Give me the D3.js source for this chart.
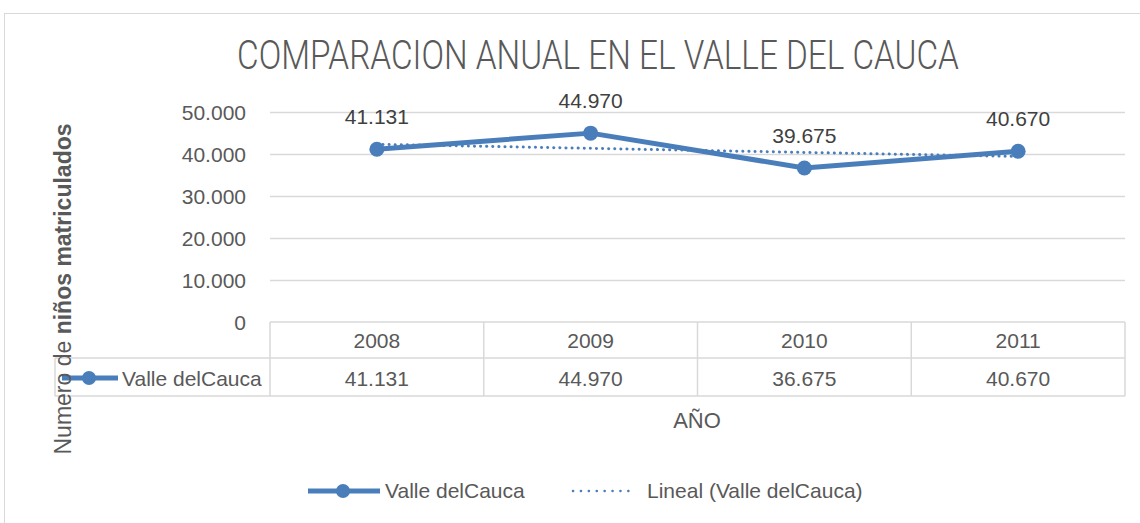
<!DOCTYPE html>
<html lang="es">
<head>
  <meta charset="UTF-8">
  <title>Comparacion anual</title>
  <script src="https://d3js.org/d3.v7.min.js"></script>
  <style>
    body { margin: 0; background: #fff; }
    svg text { font-family: "Liberation Sans", Arial, sans-serif; }
  </style>
</head>
<body>
  <svg id="chart" width="1140" height="523"></svg>

  <script>
    // data
    const years = ["2008", "2009", "2010", "2011"];
    const values = [41131, 44970, 36675, 40670];
    const dataLabels = ["41.131", "44.970", "39.675", "40.670"];
    const yTicks = [0, 10000, 20000, 30000, 40000, 50000];
    const seriesName = "Valle delCauca";
    const trendName = "Lineal (Valle delCauca)";

    const blue = "#4a7ebb";
    const grid = "#d9d9d9";
    const txt = "#595959";
    const fs = 21;

    const svg = d3.select("#chart");
    const loc = d3.formatLocale({ decimal: ",", thousands: ".", grouping: [3], currency: ["", ""] });
    const fmt = loc.format(",d");

    // frame
    svg.append("rect")
      .attr("x", 4.5).attr("y", 13.5)
      .attr("width", 1140).attr("height", 520)
      .attr("fill", "none").attr("stroke", grid);

    // title, squeezed horizontally to the reference width
    const titleG = svg.append("g");
    const title = titleG.append("text")
      .attr("text-anchor", "middle")
      .attr("font-size", 40)
      .attr("font-weight", 300)
      .style("font-family", "Roboto, 'Liberation Sans', sans-serif")
      .attr("fill", txt)
      .text("COMPARACION ANUAL EN EL VALLE DEL CAUCA");
    const tw = title.node().getComputedTextLength();
    titleG.attr("transform", `translate(598,69) scale(${722 / tw},1)`);

    const plotL = 270, plotR = 1125, plotT = 112, plotB = 322;
    const x = d3.scaleBand().domain(years).range([plotL, plotR]);
    const y = d3.scaleLinear().domain([0, 50000]).range([plotB, plotT]);
    const cx = d => x(d) + x.bandwidth() / 2;

    // gridlines
    svg.append("g")
      .selectAll("line")
      .data(yTicks.filter(t => t > 0))
      .join("line")
      .attr("x1", plotL).attr("x2", plotR)
      .attr("y1", d => Math.round(y(d)) + 0.5)
      .attr("y2", d => Math.round(y(d)) + 0.5)
      .attr("stroke", grid).attr("stroke-width", 1.5);

    // y axis labels
    const yAxis = svg.append("g")
      .attr("transform", `translate(${plotL - 24},0)`)
      .call(d3.axisLeft(y).tickValues(yTicks).tickFormat(fmt).tickSize(0).tickPadding(0));
    yAxis.select(".domain").remove();
    yAxis.selectAll("text")
      .attr("font-size", fs)
      .attr("fill", txt)
      .attr("dy", "0.35em");

    // data table
    const rowTop = 322, rowMid = 358, rowBot = 396, tableLeft = 55;
    const tbl = svg.append("g").attr("stroke", grid).attr("stroke-width", 1.5);
    tbl.append("line").attr("x1", plotL).attr("x2", plotR).attr("y1", rowTop).attr("y2", rowTop);
    tbl.append("line").attr("x1", tableLeft).attr("x2", plotR).attr("y1", rowMid).attr("y2", rowMid);
    tbl.append("line").attr("x1", tableLeft).attr("x2", plotR).attr("y1", rowBot).attr("y2", rowBot);
    tbl.append("line").attr("x1", tableLeft).attr("x2", tableLeft).attr("y1", rowMid).attr("y2", rowBot);
    tbl.selectAll(".v")
      .data(years.map(d => x(d)).concat([plotR]))
      .join("line")
      .attr("x1", d => d).attr("x2", d => d)
      .attr("y1", rowTop).attr("y2", rowBot);

    svg.append("g")
      .selectAll("text")
      .data(years)
      .join("text")
      .attr("x", d => cx(d)).attr("y", 348)
      .attr("text-anchor", "middle")
      .attr("font-size", fs).attr("fill", txt)
      .text(d => d);

    svg.append("g")
      .selectAll("text")
      .data(values)
      .join("text")
      .attr("x", (d, i) => cx(years[i])).attr("y", 386)
      .attr("text-anchor", "middle")
      .attr("font-size", fs).attr("fill", txt)
      .text(d => fmt(d));

    // legend key inside table
    svg.append("line")
      .attr("x1", 62).attr("x2", 118).attr("y1", 378).attr("y2", 378)
      .attr("stroke", blue).attr("stroke-width", 5);
    svg.append("circle").attr("cx", 89).attr("cy", 378).attr("r", 7).attr("fill", blue);
    svg.append("text")
      .attr("x", 122).attr("y", 386)
      .attr("font-size", fs).attr("fill", txt)
      .text(seriesName);

    // axis titles
    svg.append("text")
      .attr("x", 697).attr("y", 428)
      .attr("text-anchor", "middle")
      .attr("font-size", 22).attr("fill", txt)
      .text("AÑO");

    const yt = svg.append("text")
      .attr("transform", "translate(71,289) rotate(-90)")
      .attr("text-anchor", "middle")
      .attr("font-size", 23).attr("fill", txt);
    yt.append("tspan").text("Numero de ");
    yt.append("tspan").attr("font-weight", "bold").text("niños matriculados");

    // linear trend (least squares on category index)
    const n = values.length;
    const xs = values.map((d, i) => i + 1);
    const mx = d3.mean(xs), my = d3.mean(values);
    const slope = d3.sum(xs, (xi, i) => (xi - mx) * (values[i] - my)) / d3.sum(xs, xi => (xi - mx) ** 2);
    const icpt = my - slope * mx;
    const trend = years.map((yr, i) => [cx(yr), y(icpt + slope * (i + 1))]);

    svg.append("path")
      .attr("d", d3.line()([trend[0], trend[n - 1]]))
      .attr("fill", "none")
      .attr("stroke", blue).attr("stroke-width", 3)
      .attr("stroke-linecap", "round")
      .attr("stroke-dasharray", "0.1 6");

    // series line
    svg.append("path")
      .datum(values)
      .attr("d", d3.line().x((d, i) => cx(years[i])).y(d => y(d)))
      .attr("fill", "none")
      .attr("stroke", blue).attr("stroke-width", 5)
      .attr("stroke-linejoin", "round");

    svg.append("g")
      .selectAll("circle")
      .data(values)
      .join("circle")
      .attr("cx", (d, i) => cx(years[i]))
      .attr("cy", d => y(d))
      .attr("r", 7.5)
      .attr("fill", blue);

    // data labels
    svg.append("g")
      .selectAll("text")
      .data(values)
      .join("text")
      .attr("x", (d, i) => cx(years[i]))
      .attr("y", d => y(d) - 25)
      .attr("text-anchor", "middle")
      .attr("font-size", fs).attr("fill", "#404040")
      .text((d, i) => dataLabels[i]);

    // bottom legend
    const lg = svg.append("g");
    lg.append("line").attr("x1", 308).attr("x2", 380).attr("y1", 491).attr("y2", 491)
      .attr("stroke", blue).attr("stroke-width", 5);
    lg.append("circle").attr("cx", 343).attr("cy", 491).attr("r", 7).attr("fill", blue);
    lg.append("text").attr("x", 385).attr("y", 498)
      .attr("font-size", fs).attr("fill", txt).text(seriesName);
    lg.append("line").attr("x1", 573).attr("x2", 636).attr("y1", 491).attr("y2", 491)
      .attr("stroke", blue).attr("stroke-width", 2.5)
      .attr("stroke-linecap", "round").attr("stroke-dasharray", "0.1 7.8");
    lg.append("text").attr("x", 647).attr("y", 498)
      .attr("font-size", fs).attr("fill", txt).text(trendName);
  </script>
</body>
</html>
